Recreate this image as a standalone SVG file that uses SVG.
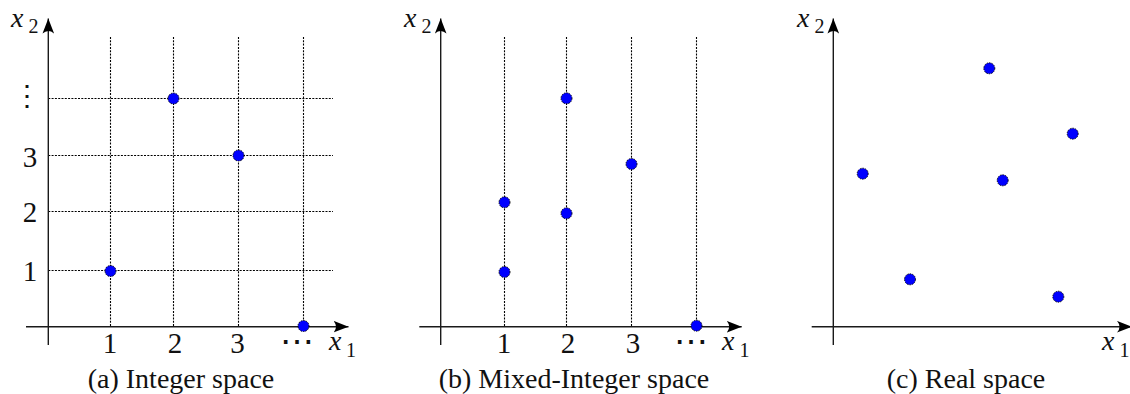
<svg xmlns="http://www.w3.org/2000/svg" width="1130" height="394" viewBox="0 0 1130 394">
<style>
.ax{stroke:#1a1a1a;stroke-width:1.4;fill:none}
.gd{stroke:#000;stroke-width:1.1;stroke-dasharray:2 1.3;fill:none}
.pt{fill:#0000ff;stroke:#000;stroke-width:0.9;stroke-dasharray:1.5 1}
.num{font-size:29px;text-anchor:middle}
.cap{font-size:28px;text-anchor:middle}
.var{font-style:italic;font-size:28px}
.sub{font-size:20px}
.dots{font-size:34px;text-anchor:middle}
.vdots{font-size:28px;text-anchor:middle}
</style>
<defs>
<marker id="arr" markerWidth="16" markerHeight="12" refX="15" refY="6" orient="auto" markerUnits="userSpaceOnUse">
<path d="M0,0.2 Q5,6 0,11.8 L15,6 Z" fill="#000"/>
</marker>
</defs>

<!-- Panel (a) -->
<g id="panel-a">
<g id="grid-a">
<line class="gd" x1="110.5" y1="37" x2="110.5" y2="326.7"/>
<line class="gd" x1="173.5" y1="37" x2="173.5" y2="326.7"/>
<line class="gd" x1="238.5" y1="37" x2="238.5" y2="326.7"/>
<line class="gd" x1="303.5" y1="37" x2="303.5" y2="326.7"/>
<line class="gd" x1="48.3" y1="98.5" x2="333" y2="98.5"/>
<line class="gd" x1="48.3" y1="155.5" x2="333" y2="155.5"/>
<line class="gd" x1="48.3" y1="211.5" x2="333" y2="211.5"/>
<line class="gd" x1="48.3" y1="270.5" x2="333" y2="270.5"/>
</g>
<g id="axes-a">
<line class="ax" x1="48.3" y1="345" x2="48.3" y2="18.5" marker-end="url(#arr)"/>
<line class="ax" x1="26" y1="326.7" x2="348.5" y2="326.7" marker-end="url(#arr)"/>
</g>
<g id="points-a">
<circle class="pt" cx="110.5" cy="271" r="5.5"/>
<circle class="pt" cx="173.5" cy="98.5" r="5.5"/>
<circle class="pt" cx="238.5" cy="155.5" r="5.5"/>
<circle class="pt" cx="303.5" cy="326" r="5.5"/>
</g>
<g id="labels-a" font-family="Liberation Serif, Times New Roman, serif" fill="#111">
<text class="var" x="11" y="27" font-family="Liberation Serif, serif" font-style="italic">x</text><text class="sub" x="28.5" y="33" font-family="Liberation Serif, serif">2</text>
<text class="var" x="329" y="350" font-family="Liberation Serif, serif" font-style="italic">x</text><text class="sub" x="346" y="357" font-family="Liberation Serif, serif">1</text>
<text class="num" x="110" y="352.5" font-family="Liberation Serif, serif">1</text>
<text class="num" x="175" y="352.5" font-family="Liberation Serif, serif">2</text>
<text class="num" x="237.5" y="352.5" font-family="Liberation Serif, serif">3</text>
<text class="dots" x="297" y="353" font-family="DejaVu Serif, serif">⋯</text>
<text class="num" x="30" y="280.5" font-family="Liberation Serif, serif">1</text>
<text class="num" x="30" y="221.5" font-family="Liberation Serif, serif">2</text>
<text class="num" x="30" y="166.5" font-family="Liberation Serif, serif">3</text>
<text class="vdots" x="27" y="105" font-family="DejaVu Serif, serif">⋮</text>
<text class="cap" x="181" y="388" font-family="Liberation Serif, serif">(a) Integer space</text>
</g>
</g>

<!-- Panel (b) -->
<g id="panel-b">
<g id="grid-b">
<line class="gd" x1="504.5" y1="37" x2="504.5" y2="326.7"/>
<line class="gd" x1="566.5" y1="37" x2="566.5" y2="326.7"/>
<line class="gd" x1="631.5" y1="37" x2="631.5" y2="326.7"/>
<line class="gd" x1="696.5" y1="37" x2="696.5" y2="326.7"/>
</g>
<g id="axes-b">
<line class="ax" x1="440.7" y1="345" x2="440.7" y2="18.5" marker-end="url(#arr)"/>
<line class="ax" x1="419.3" y1="326.7" x2="741.7" y2="326.7" marker-end="url(#arr)"/>
</g>
<g id="points-b">
<circle class="pt" cx="504.5" cy="202.3" r="5.5"/>
<circle class="pt" cx="504.5" cy="272" r="5.5"/>
<circle class="pt" cx="566.5" cy="213.3" r="5.5"/>
<circle class="pt" cx="566.5" cy="98.3" r="5.5"/>
<circle class="pt" cx="631.5" cy="164" r="5.5"/>
<circle class="pt" cx="696.5" cy="325.7" r="5.5"/>
</g>
<g id="labels-b" fill="#111">
<text class="var" x="404" y="27" font-family="Liberation Serif, serif" font-style="italic">x</text><text class="sub" x="421.5" y="33" font-family="Liberation Serif, serif">2</text>
<text class="var" x="722" y="350" font-family="Liberation Serif, serif" font-style="italic">x</text><text class="sub" x="739.5" y="357" font-family="Liberation Serif, serif">1</text>
<text class="num" x="504" y="352.5" font-family="Liberation Serif, serif">1</text>
<text class="num" x="568" y="352.5" font-family="Liberation Serif, serif">2</text>
<text class="num" x="633" y="352.5" font-family="Liberation Serif, serif">3</text>
<text class="dots" x="691" y="353" font-family="DejaVu Serif, serif">⋯</text>
<text class="cap" x="574" y="388" font-family="Liberation Serif, serif">(b) Mixed-Integer space</text>
</g>
</g>

<!-- Panel (c) -->
<g id="panel-c">
<g id="axes-c">
<line class="ax" x1="833.3" y1="345" x2="833.3" y2="18.5" marker-end="url(#arr)"/>
<line class="ax" x1="811.7" y1="326.7" x2="1132" y2="326.7" marker-end="url(#arr)"/>
</g>
<g id="points-c">
<circle class="pt" cx="989.3" cy="68.3" r="5.5"/>
<circle class="pt" cx="1072.7" cy="133.7" r="5.5"/>
<circle class="pt" cx="862.7" cy="173.7" r="5.5"/>
<circle class="pt" cx="1002.7" cy="180.3" r="5.5"/>
<circle class="pt" cx="910" cy="279.3" r="5.5"/>
<circle class="pt" cx="1058.3" cy="296.7" r="5.5"/>
</g>
<g id="labels-c" fill="#111">
<text class="var" x="797" y="27" font-family="Liberation Serif, serif" font-style="italic">x</text><text class="sub" x="814.5" y="33" font-family="Liberation Serif, serif">2</text>
<text class="var" x="1102" y="350" font-family="Liberation Serif, serif" font-style="italic">x</text><text class="sub" x="1119.5" y="357" font-family="Liberation Serif, serif">1</text>
<text class="cap" x="966" y="388" font-family="Liberation Serif, serif">(c) Real space</text>
</g>
</g>
</svg>
